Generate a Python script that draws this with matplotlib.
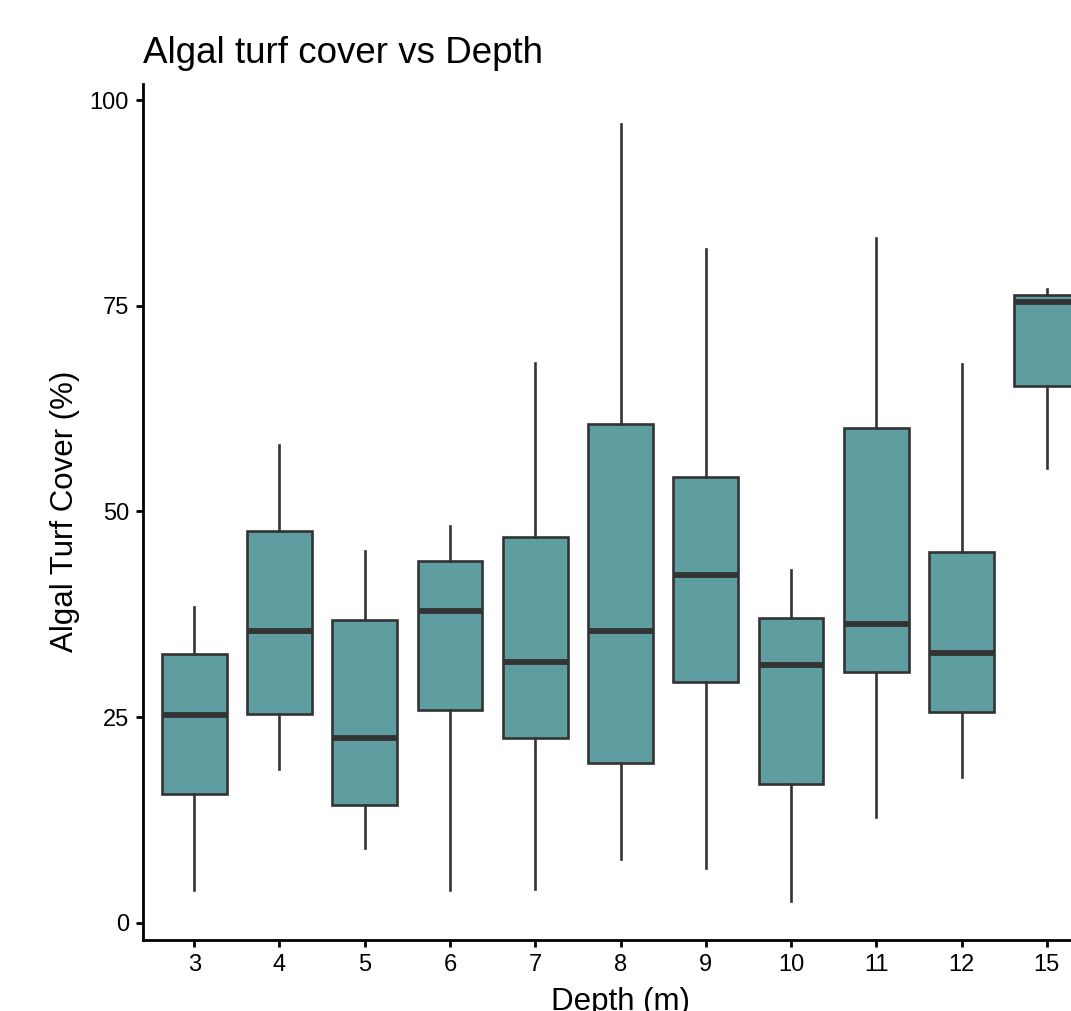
import matplotlib.pyplot as plt

plt.rcParams['font.family'] = ['Liberation Sans', 'DejaVu Sans']

# box statistics (percent cover)
depths = ["3", "4", "5", "6", "7", "8", "9", "10", "11", "12", "15"]
whisker_low = [4.0, 18.7, 9.1, 4.0, 4.1, 7.7, 6.7, 2.6, 12.8, 17.7, 55.3]
q1 = [15.7, 25.4, 14.3, 25.8, 22.4, 19.4, 29.3, 16.9, 30.5, 25.6, 65.2]
median = [25.3, 35.5, 22.5, 37.9, 31.7, 35.5, 42.3, 31.3, 36.3, 32.8, 75.4]
q3 = [32.7, 47.6, 36.8, 44.0, 46.9, 60.6, 54.2, 37.1, 60.1, 45.1, 76.3]
whisker_high = [38.4, 58.1, 45.2, 48.2, 68.0, 97.1, 81.9, 42.9, 83.2, 67.9, 77.0]

stats = []
for i, d in enumerate(depths):
    stats.append({"label": d, "whislo": whisker_low[i], "q1": q1[i], "med": median[i],
                  "q3": q3[i], "whishi": whisker_high[i], "fliers": []})

fig = plt.figure(figsize=(10.71, 10.11), dpi=100)
# the original is cropped on the right, so the axes run past the edge
ax = fig.add_axes([143 / 1071, 1 - 940 / 1011, (1098 - 143) / 1071, (940 - 83.6) / 1011])

edge = "#333333"
ax.bxp(stats, positions=range(len(depths)), widths=0.76, patch_artist=True, showcaps=False,
       showfliers=False,
       boxprops=dict(facecolor="#5F9EA0", edgecolor=edge, linewidth=1.9),
       whiskerprops=dict(color=edge, linewidth=1.9),
       medianprops=dict(color=edge, linewidth=4.2, solid_capstyle="butt"))

ax.set_xlim(-0.6, len(depths) - 0.4)
ax.set_ylim(-2.1, 102.0)
ax.set_yticks([0, 25, 50, 75, 100])
ax.set_xticks(range(len(depths)))
ax.set_xticklabels(depths)

for s in ["top", "right"]:
    ax.spines[s].set_visible(False)
for s in ["left", "bottom"]:
    ax.spines[s].set_linewidth(2.0)
    ax.spines[s].set_color("black")

ax.tick_params(axis="both", labelsize=17, length=5, width=2.0, colors="black", pad=5)
ax.set_xlabel("Depth (m)", fontsize=22.5, labelpad=8)
ax.set_ylabel("Algal Turf Cover (%)", fontsize=22.5, labelpad=7)
ax.set_title("Algal turf cover vs Depth", loc="left", fontsize=26.5, pad=14.5)

fig.savefig("out.png", dpi=100)
